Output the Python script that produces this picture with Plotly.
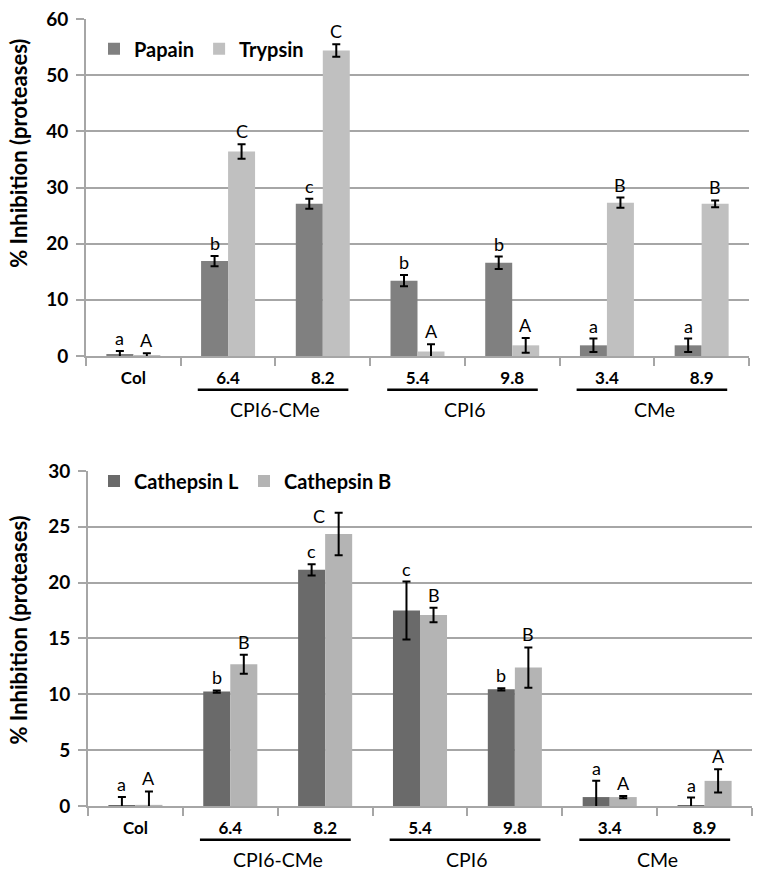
import plotly.graph_objects as go

# ---------------- data ----------------
categories = ["Col", "6.4", "8.2", "5.4", "9.8", "3.4", "8.9"]
groups = [("CPI6-CMe", 1, 2), ("CPI6", 3, 4), ("CMe", 5, 6)]

papain = [0.2, 16.9, 27.1, 13.4, 16.6, 1.9, 1.9]
papain_err = [0.7, 0.9, 0.9, 1.0, 1.1, 1.2, 1.2]
papain_lbl = ["a", "b", "c", "b", "b", "a", "a"]
trypsin = [0.1, 36.4, 54.4, 0.8, 1.9, 27.3, 27.1]
trypsin_err = [0.4, 1.3, 1.1, 1.3, 1.3, 0.9, 0.6]
trypsin_lbl = ["A", "C", "C", "A", "A", "B", "B"]

cathL = [0.05, 10.25, 21.15, 17.5, 10.45, 0.8, 0.05]
cathL_err = [0.75, 0.1, 0.5, 2.6, 0.1, 1.45, 0.7]
cathL_lbl = ["a", "b", "c", "c", "b", "a", "a"]
cathB = [0.1, 12.7, 24.35, 17.1, 12.4, 0.8, 2.25]
cathB_err = [1.2, 0.85, 1.9, 0.65, 1.8, 0.1, 1.05]
cathB_lbl = ["A", "B", "C", "B", "B", "A", "A"]

top_range = [0, 60]
bot_range = [0, 30]

# ---------------- geometry ----------------
W, H = 759, 871
ML, MR, MT, MB = 86, 7, 12, 65
PW = W - ML - MR
PH = H - MT - MB
def fy(px):  # pixel y (from top) -> paper fraction
    return (H - MB - px) / PH
def fx(px):
    return (px - ML) / PW

FONT = "Lato, 'Open Sans', sans-serif"
GRID = "#a6a6a6"
idx = list(range(len(categories)))
bargap = 0.43
half = (1 - bargap) / 4  # offset of each bar centre from category centre

fig = go.Figure()

def add_pair(vals1, err1, name1, col1, vals2, err2, name2, col2, xa, ya, leg):
    for v, e, n, c in ((vals1, err1, name1, col1), (vals2, err2, name2, col2)):
        fig.add_trace(go.Bar(
            x=idx, y=v, name=n, marker=dict(color=c, line=dict(width=0)),
            error_y=dict(type="data", array=e, visible=True, color="black",
                         thickness=2, width=4),
            xaxis=xa, yaxis=ya, legend=leg, offsetgroup=n, hoverinfo="skip"))

add_pair(papain, papain_err, "Papain", "#808080",
         trypsin, trypsin_err, "Trypsin", "#c0c0c0", "x", "y", "legend")
add_pair(cathL, cathL_err, "Cathepsin L", "#6a6a6a",
         cathB, cathB_err, "Cathepsin B", "#b4b4b4", "x2", "y2", "legend2")

annotations = []
shapes = []

def letters(vals, errs, lbls, sign, xr, yr, moved=()):
    for i, (v, e, l) in enumerate(zip(vals, errs, lbls)):
        xs, ys = (-20, -16) if i in moved else (0, 0)
        annotations.append(dict(
            x=i + sign * half, y=v + e, xref=xr, yref=yr, text=l,
            showarrow=False, yanchor="bottom", xshift=xs, yshift=ys,
            font=dict(family=FONT, size=18, color="black")))

letters(papain, papain_err, papain_lbl, -1, "x", "y")
letters(trypsin, trypsin_err, trypsin_lbl, 1, "x", "y")
letters(cathL, cathL_err, cathL_lbl, -1, "x2", "y2")
letters(cathB, cathB_err, cathB_lbl, 1, "x2", "y2", moved=(2,))

top_dom = [fy(352), 1.0]
bot_dom = [0.0, fy(468)]
top_h = 340
bot_h = 338

for xr, yd, h in (("x", "y domain", top_h), ("x2", "y2 domain", bot_h)):
    for name, a, b in groups:
        shapes.append(dict(type="line", xref=xr, yref=yd,
                           x0=a - 0.32, x1=b + 0.27,
                           y0=-34 / h, y1=-34 / h,
                           line=dict(color="black", width=2.5)))
        annotations.append(dict(x=(a + b) / 2, y=-54 / h, xref=xr, yref=yd,
                                text=name, showarrow=False,
                                xanchor="center", yanchor="middle",
                                font=dict(family=FONT, size=19.5, color="black")))

ytitle = "% Inhibition (proteases)"
for yc in (148, 629):
    annotations.append(dict(x=fx(19), y=fy(yc), xref="paper", yref="paper",
                            text=ytitle, textangle=-90, showarrow=False,
                            xanchor="center", yanchor="middle",
                            font=dict(family=FONT, size=22, color="black",
                                      weight="bold")))

xcommon = dict(
    range=[-0.5, len(categories) - 0.5], tickmode="array", tickvals=idx,
    ticktext=categories, ticks="outside", ticklen=6, tickcolor="rgba(0,0,0,0)",
    tickfont=dict(family=FONT, size=17, color="black", weight="bold"),
    showline=True, linecolor=GRID, linewidth=2, showgrid=False, zeroline=False,
    minor=dict(tickmode="linear", tick0=-0.5, dtick=1, ticks="outside",
               ticklen=8, tickwidth=2, tickcolor=GRID, showgrid=False),
    fixedrange=True)
ycommon = dict(
    ticks="outside", ticklen=8, tickwidth=2, tickcolor=GRID,
    ticklabelstandoff=4,
    tickfont=dict(family=FONT, size=19, color="black", weight="bold"),
    showline=True, linecolor=GRID, linewidth=2, showgrid=True,
    gridcolor=GRID, gridwidth=2, zeroline=False, fixedrange=True)

legfont = dict(family=FONT, size=20, color="black", weight="bold")
fig.update_layout(
    width=W, height=H,
    margin=dict(l=ML, r=MR, t=MT, b=MB),
    paper_bgcolor="white", plot_bgcolor="white",
    barmode="group", bargap=bargap, bargroupgap=0,
    xaxis=dict(domain=[0, fx(749)], anchor="y", **xcommon),
    yaxis=dict(domain=top_dom, range=top_range, dtick=10, anchor="x", **ycommon),
    xaxis2=dict(domain=[fx(88), 1.0], anchor="y2", **xcommon),
    yaxis2=dict(domain=bot_dom, range=bot_range, dtick=5, anchor="x2", **ycommon),
    legend=dict(orientation="h", x=fx(94), y=fy(42), xanchor="left",
                yanchor="middle", bgcolor="rgba(0,0,0,0)", font=legfont,
                itemwidth=30),
    legend2=dict(orientation="h", x=fx(94), y=fy(478), xanchor="left",
                 yanchor="middle", bgcolor="rgba(0,0,0,0)", font=legfont,
                 itemwidth=30),
    annotations=annotations, shapes=shapes,
    font=dict(family=FONT),
)

fig.write_html("out.html", config={"displayModeBar": False},
               post_script="document.body.style.margin='0';")
